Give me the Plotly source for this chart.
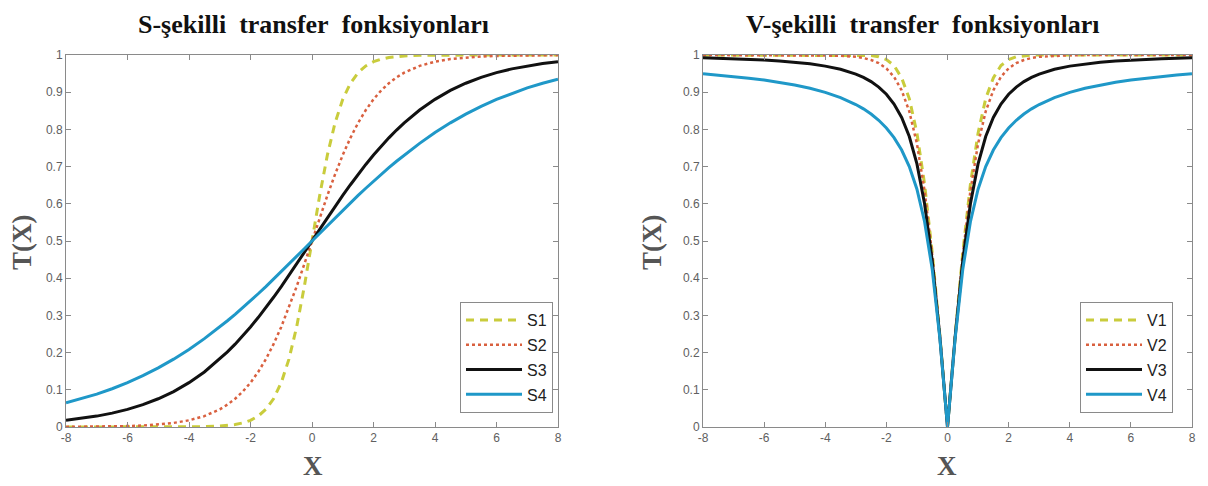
import plotly.graph_objects as go
from plotly.subplots import make_subplots

# x grid
x_vals = [-8, -7.5, -7, -6.5, -6, -5.5, -5, -4.5, -4, -3.5,
          -3, -2.75, -2.5, -2.25, -2, -1.75, -1.5, -1.25, -1, -0.75, -0.5, -0.25,
          0, 0.25, 0.5, 0.75, 1, 1.25, 1.5, 1.75, 2, 2.25, 2.5, 2.75, 3,
          3.5, 4, 4.5, 5, 5.5, 6, 6.5, 7, 7.5, 8]

# S-shaped values
s1 = [0.0, 0.0, 0.0, 0.0, 0.0, 0.0, 0.0, 0.0001, 0.0003, 0.0009,
      0.0025, 0.0041, 0.0067, 0.0110, 0.0180, 0.0293, 0.0474, 0.0759, 0.1192, 0.1824, 0.2689, 0.3775,
      0.5, 0.6225, 0.7311, 0.8176, 0.8808, 0.9241, 0.9526, 0.9707, 0.9820, 0.9890, 0.9933, 0.9959, 0.9975,
      0.9991, 0.9997, 0.9999, 1.0, 1.0, 1.0, 1.0, 1.0, 1.0, 1.0]
s2 = [0.0003, 0.0006, 0.0009, 0.0015, 0.0025, 0.0041, 0.0067, 0.0110, 0.0180, 0.0293,
      0.0474, 0.0601, 0.0759, 0.0953, 0.1192, 0.1480, 0.1824, 0.2227, 0.2689, 0.3208, 0.3775, 0.4378,
      0.5, 0.5622, 0.6225, 0.6792, 0.7311, 0.7773, 0.8176, 0.8520, 0.8808, 0.9047, 0.9241, 0.9399, 0.9526,
      0.9707, 0.9820, 0.9890, 0.9933, 0.9959, 0.9975, 0.9985, 0.9991, 0.9994, 0.9997]
s3 = [0.0180, 0.0230, 0.0293, 0.0373, 0.0474, 0.0601, 0.0759, 0.0953, 0.1192, 0.1480,
      0.1824, 0.2018, 0.2227, 0.2451, 0.2689, 0.2942, 0.3208, 0.3487, 0.3775, 0.4073, 0.4378, 0.4688,
      0.5, 0.5312, 0.5622, 0.5927, 0.6225, 0.6513, 0.6792, 0.7058, 0.7311, 0.7549, 0.7773, 0.7982, 0.8176,
      0.8520, 0.8808, 0.9047, 0.9241, 0.9399, 0.9526, 0.9627, 0.9707, 0.9770, 0.9820]
s4 = [0.0650, 0.0759, 0.0884, 0.1028, 0.1192, 0.1379, 0.1589, 0.1824, 0.2086, 0.2375,
      0.2689, 0.2856, 0.3029, 0.3208, 0.3392, 0.3582, 0.3775, 0.3973, 0.4174, 0.4378, 0.4584, 0.4792,
      0.5, 0.5208, 0.5416, 0.5622, 0.5826, 0.6027, 0.6225, 0.6418, 0.6608, 0.6792, 0.6971, 0.7144, 0.7311,
      0.7625, 0.7914, 0.8176, 0.8411, 0.8621, 0.8808, 0.8972, 0.9116, 0.9241, 0.9350]

# V-shaped values
v1 = [1.0, 1.0, 1.0, 1.0, 1.0, 1.0, 1.0, 1.0, 1.0, 1.0,
      0.9998, 0.9995, 0.9983, 0.9952, 0.9876, 0.9717, 0.9385, 0.8828, 0.7899, 0.6528, 0.4691, 0.2460,
      0.0, 0.2460, 0.4691, 0.6528, 0.7899, 0.8828, 0.9385, 0.9717, 0.9876, 0.9952, 0.9983, 0.9995, 0.9998,
      1.0, 1.0, 1.0, 1.0, 1.0, 1.0, 1.0, 1.0, 1.0, 1.0]
v2 = [1.0, 1.0, 1.0, 1.0, 1.0, 1.0, 0.9999, 0.9998, 0.9993, 0.9982,
      0.9951, 0.9919, 0.9866, 0.9780, 0.9640, 0.9414, 0.9051, 0.8483, 0.7616, 0.6351, 0.4621, 0.2449,
      0.0, 0.2449, 0.4621, 0.6351, 0.7616, 0.8483, 0.9051, 0.9414, 0.9640, 0.9780, 0.9866, 0.9919, 0.9951,
      0.9982, 0.9993, 0.9998, 0.9999, 1.0, 1.0, 1.0, 1.0, 1.0, 1.0]
v3 = [0.9923, 0.9912, 0.9899, 0.9884, 0.9864, 0.9839, 0.9806, 0.9762, 0.9701, 0.9615,
      0.9487, 0.9398, 0.9285, 0.9138, 0.8944, 0.8682, 0.8321, 0.7809, 0.7071, 0.6000, 0.4472, 0.2425,
      0.0, 0.2425, 0.4472, 0.6000, 0.7071, 0.7809, 0.8321, 0.8682, 0.8944, 0.9138, 0.9285, 0.9398, 0.9487,
      0.9615, 0.9701, 0.9762, 0.9806, 0.9839, 0.9864, 0.9884, 0.9899, 0.9912, 0.9923]
v4 = [0.9494, 0.9461, 0.9422, 0.9378, 0.9327, 0.9267, 0.9194, 0.9106, 0.8996, 0.8855,
      0.8669, 0.8552, 0.8412, 0.8245, 0.8038, 0.7779, 0.7445, 0.7002, 0.6391, 0.5517, 0.4239, 0.2382,
      0.0, 0.2382, 0.4239, 0.5517, 0.6391, 0.7002, 0.7445, 0.7779, 0.8038, 0.8245, 0.8412, 0.8552, 0.8669,
      0.8855, 0.8996, 0.9106, 0.9194, 0.9267, 0.9327, 0.9378, 0.9422, 0.9461, 0.9494]

s_names = ["S1", "S2", "S3", "S4"]
v_names = ["V1", "V2", "V3", "V4"]
titles = ["S-şekilli\u00a0 transfer\u00a0 fonksiyonları", "V-şekilli\u00a0 transfer\u00a0 fonksiyonları"]
x_ticks = [-8, -6, -4, -2, 0, 2, 4, 6, 8]
x_ticktext = ["-8", "-6", "-4", "-2", "0", "2", "4", "6", "8"]
y_ticks = [0, 0.1, 0.2, 0.3, 0.4, 0.5, 0.6, 0.7, 0.8, 0.9, 1]
y_ticktext = ["0", "0.1", "0.2", "0.3", "0.4", "0.5", "0.6", "0.7", "0.8", "0.9", "1"]

styles = [
    dict(color="#c9cc3c", width=3, dash="8px,6px"),
    dict(color="#d9603f", width=2.5, dash="dot"),
    dict(color="#111111", width=3, dash="solid"),
    dict(color="#1f98c8", width=3, dash="solid"),
]

W, H = 1208, 486
ML, MR, MT, MB = 66, 16, 55, 59
PW, PH = W - ML - MR, H - MT - MB


def px_x(px):
    return (px - ML) / PW


def px_y(py):
    return (H - MB - py) / PH


fig = make_subplots(rows=1, cols=2)

for i, (name, ys) in enumerate(zip(s_names, [s1, s2, s3, s4])):
    fig.add_trace(go.Scatter(x=x_vals, y=ys, mode="lines", name=name, line=styles[i],
                             legend="legend", legendgroup=name), row=1, col=1)
for i, (name, ys) in enumerate(zip(v_names, [v1, v2, v3, v4])):
    fig.add_trace(go.Scatter(x=x_vals, y=ys, mode="lines", name=name, line=styles[i],
                             legend="legend2", legendgroup=name), row=1, col=2)

axis_common = dict(showline=True, linecolor="#8a8a8a", linewidth=1, mirror="ticks",
                   ticks="inside", ticklen=5, tickcolor="#8a8a8a", showgrid=False, zeroline=False,
                   automargin=False,
                   tickfont=dict(family="Liberation Sans", size=12, color="#606060"))
fig.update_xaxes(range=[-8, 8], tickvals=x_ticks, ticktext=x_ticktext, **axis_common)
fig.update_yaxes(range=[0, 1], tickvals=y_ticks, ticktext=y_ticktext, domain=[0, 1], **axis_common)
fig.update_layout(xaxis=dict(domain=[0, px_x(558)]), xaxis2=dict(domain=[px_x(703), 1]))

legend_common = dict(bgcolor="white", bordercolor="#8a8a8a", borderwidth=1,
                     font=dict(family="Liberation Sans", size=16, color="#222222"),
                     xanchor="right", yanchor="bottom", y=px_y(413), itemwidth=56,
                     tracegroupgap=1, traceorder="grouped")
fig.update_layout(
    legend=dict(x=px_x(553), **legend_common),
    legend2=dict(x=px_x(1173), **legend_common),
)

annots = []
for cx, t in zip([313, 922], titles):
    annots.append(dict(text="<b>%s</b>" % t, x=px_x(cx), y=px_y(24), xref="paper", yref="paper",
                       showarrow=False, xanchor="center", yanchor="middle",
                       font=dict(family="Liberation Serif", size=26, color="#111111")))
for cx in [313, 947]:
    annots.append(dict(text="<b>X</b>", x=px_x(cx), y=px_y(466), xref="paper", yref="paper",
                       showarrow=False, xanchor="center", yanchor="middle",
                       font=dict(family="Liberation Serif", size=27, color="#555555")))
for cx in [22, 652]:
    annots.append(dict(text="<b>T(X)</b>", x=px_x(cx), y=px_y(242), xref="paper", yref="paper",
                       showarrow=False, xanchor="center", yanchor="middle", textangle=-90,
                       font=dict(family="Liberation Serif", size=27, color="#555555")))

fig.update_layout(annotations=annots, width=W, height=H,
                  margin=dict(l=ML, r=MR, t=MT, b=MB, autoexpand=False),
                  plot_bgcolor="white", paper_bgcolor="white")

fig.write_html("out.html", config={"displayModeBar": False},
               post_script="document.body.style.margin='0';")
